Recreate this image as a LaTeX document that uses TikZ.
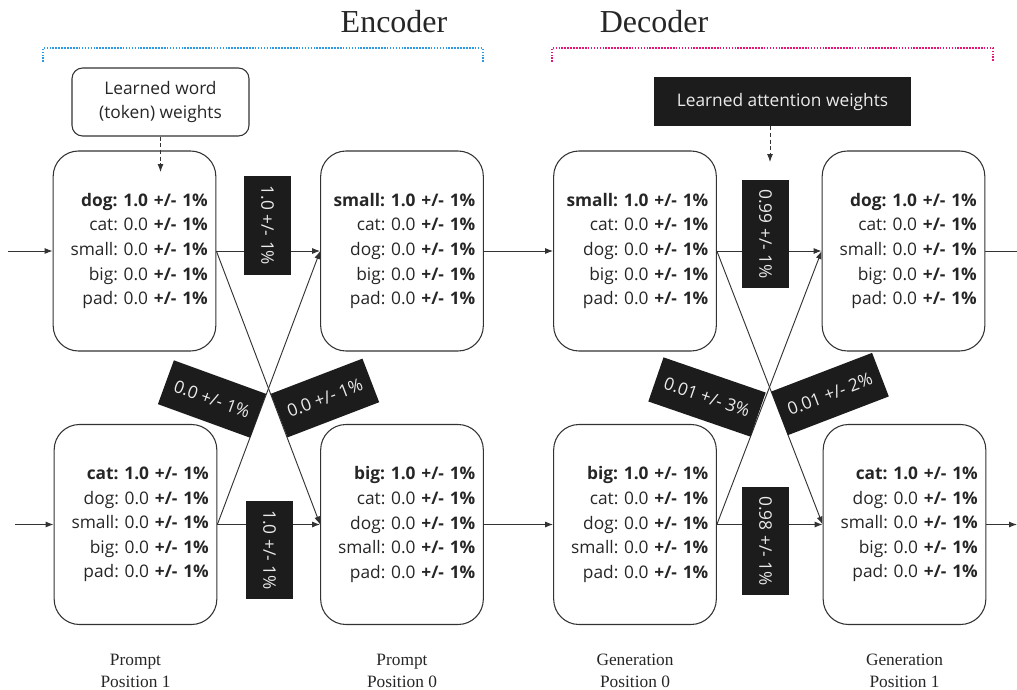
\documentclass[tikz,border=0pt]{standalone}
\usepackage{fontspec}
\setmainfont{Liberation Serif}
\newfontfamily\boxfont{Open Sans}
\usetikzlibrary{arrows.meta,positioning,calc}
\frenchspacing

\definecolor{inkdark}{HTML}{333333}
\definecolor{tagfill}{HTML}{1C1C1C}
\definecolor{encblue}{HTML}{2E9AE6}
\definecolor{decpink}{HTML}{E6157A}

\newcommand{\pmone}{\textbf{+/- 1\%}}

\begin{document}
\begin{tikzpicture}[
    x=7.5pt, y=-7.5pt,
    >={Latex[length=6pt,width=4.5pt]},
    word box/.style={draw=inkdark, line width=0.8pt, rounded corners=19pt, minimum width=122pt, minimum height=150pt, text width=110pt, inner xsep=6pt, align=right, font=\boxfont\fontsize{13}{18.4}\selectfont, text=black!85},
    weight tag/.style={fill=tagfill, text=white!92!black, inner xsep=7pt, minimum height=35pt, font=\boxfont\fontsize{13}{16}\selectfont},
    pos label/.style={align=center, font=\fontsize{13}{16.5}\selectfont, text=black!85},
    link/.style={draw=inkdark, line width=0.7pt},
]
\useasboundingbox (0,0) rectangle (101.7,68.9);

% === Titles and brackets ===
\node[font=\fontsize{24}{28}\selectfont, anchor=base, text=black!85] (enc) at (39.4,3.2) {Encoder};
\node[font=\fontsize{24}{28}\selectfont, anchor=base, text=black!85] (dec) at (65.4,3.2) {Decoder};
\draw[encblue, densely dotted, line width=1.2pt] (4.3,6.2) -- (4.3,4.8) -- (48.3,4.8) -- (48.3,6.2);
\draw[decpink, densely dotted, line width=1.2pt] (55.2,6.2) -- (55.2,4.8) -- (99.3,4.8) -- (99.3,6.2);

% === Top row ===
\node[word box] (p1a) at (13.45,25.1) {\textbf{dog: 1.0 +/- 1\%}\\ cat: 0.0 \pmone\\ small: 0.0 \pmone\\ big: 0.0 \pmone\\ pad: 0.0 \pmone};
\node[word box] (p0a) at (40.2,25.1) {\textbf{small: 1.0 +/- 1\%}\\ cat: 0.0 \pmone\\ dog: 0.0 \pmone\\ big: 0.0 \pmone\\ pad: 0.0 \pmone};
\node[word box] (g0a) at (63.5,25.1) {\textbf{small: 1.0 +/- 1\%}\\ cat: 0.0 \pmone\\ dog: 0.0 \pmone\\ big: 0.0 \pmone\\ pad: 0.0 \pmone};
\node[word box] (g1a) at (90.35,25.1) {\textbf{dog: 1.0 +/- 1\%}\\ cat: 0.0 \pmone\\ small: 0.0 \pmone\\ big: 0.0 \pmone\\ pad: 0.0 \pmone};

% === Bottom row ===
\node[word box] (p1b) at (13.55,52.45) {\textbf{cat: 1.0 +/- 1\%}\\ dog: 0.0 \pmone\\ small: 0.0 \pmone\\ big: 0.0 \pmone\\ pad: 0.0 \pmone};
\node[word box] (p0b) at (40.2,52.45) {\textbf{big: 1.0 +/- 1\%}\\ cat: 0.0 \pmone\\ dog: 0.0 \pmone\\ small: 0.0 \pmone\\ pad: 0.0 \pmone};
\node[word box] (g0b) at (63.5,52.45) {\textbf{big: 1.0 +/- 1\%}\\ cat: 0.0 \pmone\\ dog: 0.0 \pmone\\ small: 0.0 \pmone\\ pad: 0.0 \pmone};
\node[word box] (g1b) at (90.45,52.45) {\textbf{cat: 1.0 +/- 1\%}\\ dog: 0.0 \pmone\\ small: 0.0 \pmone\\ big: 0.0 \pmone\\ pad: 0.0 \pmone};

% === Position labels ===
\node[pos label, below=18pt of p1b] {Prompt\\Position 1};
\node[pos label, below=18pt of p0b] {Prompt\\Position 0};
\node[pos label, below=18pt of g0b] {Generation\\Position 0};
\node[pos label, below=18pt of g1b] {Generation\\Position 1};

% === Connectors ===
\coordinate (intop) at (0.8,25.1);
\coordinate (inbot) at (1.5,52.45);
\coordinate (outtop) at (101.7,25.1);
\coordinate (outbot) at (101.7,52.45);
\draw[link, ->] (intop) -- (p1a.west);
\draw[link, ->] (inbot) -- (p1b.west);
\foreach \s/\t in {p1a/p0a, p1a/p0b, p1b/p0a, p1b/p0b, p0a/g0a, p0b/g0b, g0a/g1a, g0a/g1b, g0b/g1a, g0b/g1b} {
    \draw[link, ->] (\s.east) -- (\t.west);
}
\draw[link] (g1a.east) -- (outtop);
\draw[link, ->] (g1b.east) -- (outbot);

% === Weight tags ===
\node[weight tag, rotate=-90] (wa) at (26.75,22.55) {1.0 +/- 1\%};
\node[weight tag, rotate=-90] (wb) at (26.95,55.0) {1.0 +/- 1\%};
\node[weight tag, rotate=-20] (wc) at (21.2,39.9) {0.0 +/- 1\%};
\node[weight tag, rotate=21] (wd) at (32.5,39.8) {0.0 +/- 1\%};
\node[weight tag, rotate=-90] (we) at (76.55,23.4) {0.99 +/- 1\%};
\node[weight tag, rotate=-90] (wf) at (76.55,54.1) {0.98 +/- 1\%};
\node[weight tag, rotate=-19] (wg) at (70.7,39.7) {0.01 +/- 3\%};
\node[weight tag, rotate=21] (wh) at (83.0,39.4) {0.01 +/- 2\%};

% === Learned weights notes ===
\node[draw=inkdark, line width=0.8pt, rounded corners=8pt, minimum width=132.75pt, minimum height=51pt, align=center, font=\boxfont\fontsize{13}{18}\selectfont, text=black!85] (wordw) at (16.05,10.2) {Learned word\\(token) weights};
\coordinate (wordtip) at (16.05,17.2);
\draw[link, dash pattern=on 3pt off 2pt, ->] (wordw.south) -- (wordtip);

\node[weight tag, inner xsep=17pt, minimum height=36.75pt] (attn) at (78.25,10.15) {Learned attention weights};
\coordinate (attntip) at (77.0,16.2);
\draw[link, dash pattern=on 3pt off 2pt, ->] (attn.south -| attntip) -- (attntip);

\end{tikzpicture}
\end{document}
